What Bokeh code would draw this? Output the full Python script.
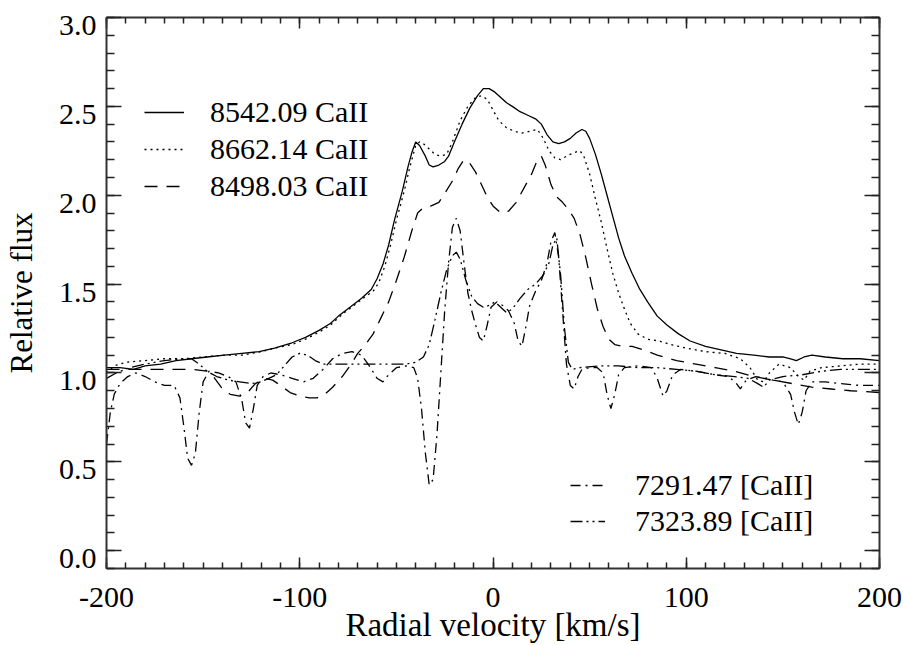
import numpy as np
from bokeh.plotting import figure
from bokeh.models import (Range1d, LinearAxis, SingleIntervalTicker, FixedTicker, PrintfTickFormatter,
                          Legend, LegendItem)
from bokeh.embed import file_html
from bokeh.resources import INLINE

FONT = "Liberation Serif"

# ---- data ----
x_8542 = [-200, -193, -186, -180, -172, -164, -156, -148, -139, -130, -121, -113, -104, -97, -90, -84, -80,
          -74, -68, -63, -60, -57, -54, -51, -47, -44, -42, -40, -38, -35, -33, -31, -28, -25, -23, -20,
          -16, -12, -8, -5, -2, 1, 4, 7, 10, 14, 18, 22, 25, 28, 31, 34, 37, 40, 43, 46, 48, 50, 53, 56,
          59, 62, 65, 68, 72, 76, 80, 85, 90, 96, 102, 110, 118, 126, 135, 143, 150, 154, 157, 161, 165,
          172, 181, 190, 200]
y_8542 = [1.03, 1.03, 1.02, 1.04, 1.05, 1.07, 1.08, 1.09, 1.10, 1.11, 1.12, 1.14, 1.17, 1.20, 1.24, 1.28, 1.32,
          1.37, 1.42, 1.47, 1.53, 1.61, 1.72, 1.86, 2.02, 2.16, 2.24, 2.30, 2.28, 2.22, 2.17, 2.16, 2.17, 2.19,
          2.22, 2.30, 2.40, 2.49, 2.56, 2.60, 2.60, 2.58, 2.55, 2.52, 2.50, 2.47, 2.45, 2.43, 2.40, 2.34, 2.30,
          2.29, 2.30, 2.32, 2.35, 2.37, 2.36, 2.32, 2.23, 2.12, 2.00, 1.88, 1.76, 1.66, 1.56, 1.47, 1.40, 1.32,
          1.27, 1.22, 1.18, 1.15, 1.13, 1.11, 1.10, 1.09, 1.09, 1.08, 1.07, 1.09, 1.10, 1.09, 1.08, 1.08, 1.07]

x_8662 = [-200, -196, -190, -180, -170, -160, -150, -140, -130, -120, -113, -104, -97, -90, -84, -78, -72,
          -66, -62, -59, -56, -53, -50, -46, -43, -40, -38, -36, -33, -30, -27, -24, -21, -17, -13, -9, -6,
          -3, 0, 3, 7, 11, 15, 19, 23, 26, 29, 32, 35, 38, 42, 45, 47, 50, 53, 56, 59, 62, 65, 68, 71, 75,
          80, 86, 92, 100, 110, 120, 128, 133, 137, 140, 143, 148, 154, 158, 161, 164, 170, 180, 190, 200]
y_8662 = [1.00, 1.04, 1.06, 1.07, 1.08, 1.08, 1.09, 1.10, 1.10, 1.12, 1.14, 1.16, 1.19, 1.23, 1.27, 1.33, 1.38,
          1.43, 1.46, 1.51, 1.60, 1.72, 1.86, 2.02, 2.16, 2.28, 2.30, 2.29, 2.26, 2.23, 2.22, 2.23, 2.30, 2.42,
          2.50, 2.55, 2.56, 2.54, 2.48, 2.42, 2.38, 2.36, 2.35, 2.36, 2.37, 2.32, 2.25, 2.21, 2.20, 2.22, 2.24,
          2.25, 2.22, 2.12, 1.98, 1.85, 1.70, 1.56, 1.45, 1.36, 1.28, 1.22, 1.19, 1.18, 1.16, 1.14, 1.12, 1.11,
          1.08, 1.03, 0.96, 0.95, 1.00, 1.05, 1.03, 0.98, 0.96, 1.01, 1.03, 1.04, 1.05, 1.05]

x_8498 = [-200, -185, -170, -155, -148, -144, -140, -136, -131, -127, -123, -118, -114, -110, -105, -100, -95,
          -91, -87, -83, -78, -74, -70, -66, -62, -58, -54, -50, -46, -42, -39, -36, -32, -28, -25, -21, -18,
          -15, -12, -9, -6, -3, 0, 4, 8, 12, 16, 20, 23, 25, 27, 30, 33, 36, 39, 42, 45, 48, 51, 54, 57, 60,
          63, 67, 72, 78, 85, 95, 105, 115, 125, 135, 145, 155, 165, 175, 185, 200]
y_8498 = [1.02, 1.02, 1.02, 1.02, 1.01, 0.97, 0.91, 0.88, 0.87, 0.89, 0.94, 0.97, 0.96, 0.93, 0.89, 0.87, 0.86,
          0.86, 0.88, 0.92, 0.98, 1.04, 1.11, 1.16, 1.22, 1.31, 1.40, 1.52, 1.65, 1.80, 1.90, 1.93, 1.94, 1.96,
          2.01, 2.08, 2.15, 2.20, 2.18, 2.13, 2.06, 1.99, 1.94, 1.90, 1.91, 1.96, 2.04, 2.12, 2.20, 2.22, 2.17,
          2.06, 1.99, 1.96, 1.92, 1.87, 1.78, 1.65, 1.50, 1.36, 1.26, 1.19, 1.16, 1.15, 1.15, 1.13, 1.10, 1.07,
          1.05, 1.03, 1.01, 0.98, 0.96, 0.94, 0.92, 0.91, 0.90, 0.89]

x_7291 = [-200, -198, -196, -193, -189, -185, -180, -175, -170, -165, -162, -160, -158, -156, -154, -152, -150,
          -147, -142, -137, -133, -130, -128, -126, -124, -122, -119, -115, -110, -104, -98, -93, -88, -83, -78,
          -73, -68, -64, -60, -57, -54, -50, -45, -41, -39, -37, -35, -33, -31, -29, -27, -25, -23, -21, -19,
          -17, -15, -13, -11, -9, -7, -5, -3, -1, 2, 5, 8, 11, 13, 15, 17, 19, 22, 25, 28, 30, 32, 34, 36, 38,
          40, 42, 44, 46, 50, 54, 57, 59, 61, 63, 65, 68, 75, 82, 85, 88, 90, 93, 97, 105, 115, 122, 126, 128,
          131, 136, 145, 150, 154, 156, 158, 160, 162, 165, 172, 180, 190, 200]
y_7291 = [0.60, 0.78, 0.88, 0.94, 0.98, 1.00, 0.98, 0.95, 0.93, 0.93, 0.86, 0.70, 0.52, 0.48, 0.55, 0.78, 0.95,
          1.01, 1.00, 0.98, 0.95, 0.85, 0.72, 0.69, 0.80, 0.93, 0.98, 1.00, 0.99, 0.97, 0.95, 0.97, 1.02, 1.08,
          1.11, 1.12, 1.10, 1.04, 0.97, 0.95, 0.99, 1.03, 1.04, 1.03, 0.97, 0.80, 0.55, 0.37, 0.40, 0.65, 1.00,
          1.35, 1.62, 1.82, 1.87, 1.80, 1.62, 1.45, 1.35, 1.27, 1.20, 1.18, 1.27, 1.37, 1.40, 1.38, 1.35, 1.28,
          1.18, 1.15, 1.26, 1.38, 1.46, 1.52, 1.62, 1.74, 1.79, 1.65, 1.35, 1.05, 0.93, 0.91, 0.98, 1.02, 1.03,
          1.03, 1.00, 0.88, 0.80, 0.88, 0.99, 1.03, 1.04, 1.03, 0.97, 0.87, 0.90, 0.99, 1.02, 1.01, 0.99, 0.98,
          0.94, 0.91, 0.96, 0.98, 0.96, 0.95, 0.88, 0.78, 0.71, 0.78, 0.90, 0.95, 0.95, 0.94, 0.93, 0.93]

x_7323 = [-200, -195, -188, -180, -170, -161, -156, -152, -148, -143, -137, -131, -125, -120, -116, -112, -108,
          -104, -100, -96, -92, -88, -80, -70, -60, -50, -45, -40, -36, -33, -30, -27, -24, -21, -19, -17, -14,
          -11, -8, -5, -2, 1, 4, 7, 10, 14, 18, 22, 26, 29, 31, 33, 35, 37, 39, 41, 45, 55, 65, 75, 85, 95,
          105, 115, 125, 132, 137, 140, 143, 150, 160, 170, 180, 190, 200]
y_7323 = [0.97, 1.00, 1.03, 1.05, 1.07, 1.08, 1.08, 1.05, 1.01, 0.98, 0.96, 0.95, 0.94, 0.95, 0.97, 0.99, 1.04,
          1.09, 1.11, 1.10, 1.07, 1.05, 1.05, 1.05, 1.05, 1.05, 1.05, 1.06, 1.09, 1.16, 1.30, 1.45, 1.58, 1.66,
          1.68, 1.64, 1.52, 1.43, 1.39, 1.37, 1.38, 1.40, 1.37, 1.34, 1.36, 1.42, 1.47, 1.50, 1.55, 1.62, 1.72,
          1.76, 1.55, 1.25, 1.06, 1.02, 1.03, 1.04, 1.04, 1.03, 1.03, 1.02, 1.01, 0.99, 0.98, 0.97, 0.94, 0.92,
          0.96, 0.98, 0.99, 1.01, 1.02, 1.02, 1.02]

labels_top = ["8542.09 CaII", "8662.14 CaII", "8498.03 CaII"]
labels_bottom = ["7291.47 [CaII]", "7323.89 [CaII]"]
x_title = "Radial velocity [km/s]"
y_title = "Relative flux"

X_MIN, X_MAX = -200, 200
Y_MIN, Y_MAX = -0.1, 3.0
x_major = [float(v) for v in np.arange(-200, 201, 100)]
x_minor = [float(v) for v in np.arange(-200, 201, 10)]
y_major = [round(float(v), 2) for v in np.arange(0.0, 3.01, 0.5)]
y_minor = [round(float(v), 2) for v in np.arange(-0.1, 3.01, 0.1)]

# ---- figure ----
p = figure(width=904, height=645, x_range=Range1d(X_MIN, X_MAX), y_range=Range1d(Y_MIN, Y_MAX),
           output_backend="svg", toolbar_location=None, x_axis_type=None, y_axis_type=None,
           min_border_left=104, min_border_right=25, min_border_top=17, min_border_bottom=77)
p.outline_line_color = None
p.background_fill_color = "white"
p.border_fill_color = "white"
# range used only to print the y labels a little below their ticks (as in the original)
LAB_SHIFT = 0.045
p.extra_y_ranges = {"ylab": Range1d(Y_MIN + LAB_SHIFT, Y_MAX + LAB_SHIFT)}

AXC = "#333333"
TKC = "#222222"


def tick_axis(positions, length, line=True, **kw):
    ax = LinearAxis(ticker=FixedTicker(ticks=[], minor_ticks=positions),
                    major_tick_in=0, major_tick_out=0,
                    minor_tick_in=length, minor_tick_out=0,
                    minor_tick_line_width=1.5, minor_tick_line_color=TKC,
                    major_label_standoff=0, axis_label_standoff=0, **kw)
    if line:
        ax.axis_line_width = 2
        ax.axis_line_color = AXC
    else:
        ax.axis_line_color = None
    return ax


# bottom axis: ticks, labels and title
bottom = LinearAxis(ticker=SingleIntervalTicker(interval=100, num_minor_ticks=10),
                    formatter=PrintfTickFormatter(format="%d"),
                    major_tick_in=11, major_tick_out=0, minor_tick_in=6, minor_tick_out=0,
                    axis_line_width=2, axis_line_color=AXC,
                    major_tick_line_width=1.5, minor_tick_line_width=1.5,
                    major_tick_line_color=TKC, minor_tick_line_color=TKC,
                    major_label_text_font=FONT, major_label_text_font_size="30px",
                    major_label_text_color="black", major_label_standoff=19,
                    axis_label=x_title, axis_label_text_font=FONT, axis_label_text_font_size="33px",
                    axis_label_text_font_style="normal", axis_label_text_color="black",
                    axis_label_standoff=-3)
p.add_layout(bottom, "below")

# top: tick marks only
p.add_layout(tick_axis(x_major, 11), "above")
p.add_layout(tick_axis(x_minor, 6, line=False), "above")
# right: tick marks only
p.add_layout(tick_axis(y_major, 15), "right")
p.add_layout(tick_axis(y_minor, 8, line=False), "right")
# left: tick marks (inner), then labels and title (outer)
p.add_layout(tick_axis(y_major, 15), "left")
p.add_layout(tick_axis(y_minor, 8, line=False), "left")
left_lab = LinearAxis(y_range_name="ylab",
                      ticker=SingleIntervalTicker(interval=0.5, num_minor_ticks=0),
                      formatter=PrintfTickFormatter(format="%.1f"),
                      major_tick_in=0, major_tick_out=0, minor_tick_in=0, minor_tick_out=0,
                      major_tick_line_color=None, minor_tick_line_color=None, axis_line_color=None,
                      major_label_text_font=FONT, major_label_text_font_size="30px",
                      major_label_text_color="black", major_label_standoff=10,
                      axis_label=y_title, axis_label_text_font=FONT, axis_label_text_font_size="31px",
                      axis_label_text_font_style="normal", axis_label_text_color="black",
                      axis_label_standoff=17)
p.add_layout(left_lab, "left")

LW = 1.3
r1 = p.line(x_8542, y_8542, line_color="black", line_width=LW)
r2 = p.line(x_8662, y_8662, line_color="black", line_width=LW, line_dash="2 4")
r3 = p.line(x_8498, y_8498, line_color="black", line_width=LW, line_dash="13 9")
r4 = p.line(x_7291, y_7291, line_color="black", line_width=LW, line_dash="10 5 2 5")
r5 = p.line(x_7323, y_7323, line_color="black", line_width=LW, line_dash="12 4 2 4 2 4")

leg_style = dict(label_text_font=FONT, label_text_font_size="30px", label_text_color="black",
                 padding=0, margin=0, border_line_alpha=0, background_fill_alpha=0,
                 glyph_height=20)

leg1 = Legend(items=[LegendItem(label=labels_top[0], renderers=[r1]),
                     LegendItem(label=labels_top[1], renderers=[r2]),
                     LegendItem(label=labels_top[2], renderers=[r3])],
              location=(38, 365), glyph_width=40, label_standoff=26, spacing=3, **leg_style)
leg2 = Legend(items=[LegendItem(label=labels_bottom[0], renderers=[r4]),
                     LegendItem(label=labels_bottom[1], renderers=[r5])],
              location=(464, 30), glyph_width=35, label_standoff=30, spacing=2, **leg_style)
p.add_layout(leg1)
p.add_layout(leg2)

open("out.html", "w").write(file_html(p, INLINE))
